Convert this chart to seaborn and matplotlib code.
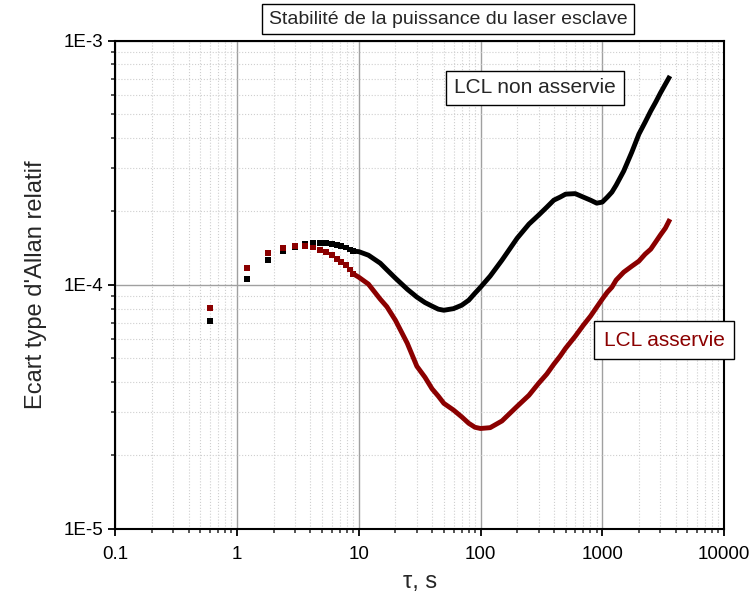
import numpy as np
import pandas as pd
import matplotlib
matplotlib.use("Agg")
import matplotlib.pyplot as plt
import matplotlib.ticker as mticker
import seaborn as sns

# Short tau: individual samples (tau = n * 0.6 s)
tau_pts = [0.6, 1.2, 1.8, 2.4, 3.0, 3.6, 4.2, 4.8, 5.4, 6.0, 6.6, 7.2, 7.8, 8.4, 9.0]
free_pts = [7.13e-5, 1.058e-4, 1.259e-4, 1.37e-4, 1.427e-4, 1.468e-4, 1.482e-4, 1.486e-4,
            1.482e-4, 1.468e-4, 1.454e-4, 1.44e-4, 1.423e-4, 1.396e-4, 1.374e-4]
locked_pts = [8.05e-5, 1.174e-4, 1.348e-4, 1.418e-4, 1.445e-4, 1.445e-4, 1.423e-4, 1.387e-4,
              1.358e-4, 1.32e-4, 1.278e-4, 1.243e-4, 1.201e-4, 1.156e-4, 1.109e-4]

# Long tau: samples are so dense they merge into a thick curve
tau_line = [9.0, 10, 12, 15, 17, 20, 25, 30, 35, 40, 45, 50, 60, 70, 80, 90, 100, 120, 150,
            200, 250, 300, 350, 400, 450, 500, 600, 700, 800, 900, 1000, 1100, 1200, 1300,
            1500, 1750, 2000, 2250, 2500, 2750, 3000, 3300, 3600]
free_line = [1.374e-4, 1.368e-4, 1.323e-4, 1.227e-4, 1.153e-4, 1.065e-4, 9.60e-5, 8.91e-5,
             8.46e-5, 8.18e-5, 7.95e-5, 7.87e-5, 7.99e-5, 8.25e-5, 8.65e-5, 9.24e-5, 9.78e-5,
             1.086e-4, 1.262e-4, 1.553e-4, 1.774e-4, 1.93e-4, 2.08e-4, 2.223e-4, 2.287e-4,
             2.353e-4, 2.364e-4, 2.287e-4, 2.223e-4, 2.161e-4, 2.182e-4, 2.287e-4, 2.398e-4,
             2.56e-4, 2.924e-4, 3.50e-4, 4.146e-4, 4.64e-4, 5.15e-4, 5.61e-4, 6.10e-4,
             6.64e-4, 7.17e-4]
locked_line = [1.109e-4, 1.075e-4, 1.007e-4, 8.74e-5, 8.14e-5, 7.16e-5, 5.77e-5, 4.64e-5,
               4.18e-5, 3.75e-5, 3.50e-5, 3.27e-5, 3.07e-5, 2.88e-5, 2.71e-5, 2.61e-5, 2.58e-5,
               2.60e-5, 2.77e-5, 3.18e-5, 3.53e-5, 3.95e-5, 4.31e-5, 4.73e-5, 5.10e-5,
               5.50e-5, 6.16e-5, 6.84e-5, 7.44e-5, 8.10e-5, 8.74e-5, 9.33e-5, 9.78e-5,
               1.046e-4, 1.127e-4, 1.193e-4, 1.251e-4, 1.336e-4, 1.40e-4, 1.50e-4, 1.599e-4,
               1.708e-4, 1.859e-4]

x_ticks = [0.1, 1, 10, 100, 1000, 10000]
x_labels = ["0.1", "1", "10", "100", "1000", "10000"]
y_ticks = [1e-5, 1e-4, 1e-3]
y_labels = ["1E-5", "1E-4", "1E-3"]

colors = {"free": "black", "locked": "#8b0000"}

df_pts = pd.DataFrame({
    "tau": tau_pts * 2,
    "adev": free_pts + locked_pts,
    "series": ["free"] * len(tau_pts) + ["locked"] * len(tau_pts),
})
df_line = pd.DataFrame({
    "tau": tau_line * 2,
    "adev": free_line + locked_line,
    "series": ["free"] * len(tau_line) + ["locked"] * len(tau_line),
})

sns.set_style("white")
plt.rcParams['font.family'] = ['Liberation Sans', 'DejaVu Sans']

fig = plt.figure(figsize=(7.53, 6.06), dpi=100)
ax = fig.add_axes([0.1531, 0.1271, 0.8084, 0.8057])

sns.lineplot(data=df_line, x="tau", y="adev", hue="series", palette=colors,
             linewidth=3.5, legend=False, ax=ax, zorder=3,
             solid_joinstyle="round", solid_capstyle="butt")
sns.scatterplot(data=df_pts, x="tau", y="adev", hue="series", palette=colors,
                marker="s", s=18, linewidth=0, legend=False, ax=ax, zorder=4)

ax.set_xscale("log")
ax.set_yscale("log")
ax.set_xlim(0.1, 10000)
ax.set_ylim(1e-5, 1e-3)
ax.set_xticks(x_ticks)
ax.set_xticklabels(x_labels)
ax.set_yticks(y_ticks)
ax.set_yticklabels(y_labels)
ax.xaxis.set_minor_locator(mticker.LogLocator(base=10, subs=np.arange(2, 10), numticks=20))
ax.yaxis.set_minor_locator(mticker.LogLocator(base=10, subs=np.arange(2, 10), numticks=20))
ax.xaxis.set_minor_formatter(mticker.NullFormatter())
ax.yaxis.set_minor_formatter(mticker.NullFormatter())

ax.set_axisbelow(True)
ax.grid(which="major", color="#a0a0a0", linewidth=1.0, linestyle="-")
ax.grid(which="minor", color="#cfcfcf", linewidth=0.8, linestyle=":")

ax.tick_params(which="major", direction="out", length=5, width=1.3, labelsize=13.5,
               bottom=True, left=True, top=False, right=False, colors="black")
ax.tick_params(axis="x", which="major", pad=7)
ax.tick_params(which="minor", direction="out", length=3, width=1.1,
               bottom=True, left=True, top=False, right=False)
for sp in ax.spines.values():
    sp.set_linewidth(1.5)
    sp.set_color("black")

ax.set_xlabel("τ, s", fontsize=17, labelpad=6)
ax.set_ylabel("Ecart type d'Allan relatif", fontsize=17, labelpad=12)

box = dict(boxstyle="square,pad=0.35", facecolor="white", edgecolor="black", linewidth=1)
fig.text(0.595, 0.9686, "Stabilité de la puissance du laser esclave", fontsize=14,
         ha="center", va="center", bbox=box)
fig.text(0.7105, 0.8548, "LCL non asservie", fontsize=15, ha="center", va="center",
         bbox=dict(boxstyle="square,pad=0.38", facecolor="white", edgecolor="black", linewidth=1))
fig.text(0.8818, 0.4389, "LCL asservie", fontsize=15, color="#8b0000",
         ha="center", va="center",
         bbox=dict(boxstyle="square,pad=0.45", facecolor="white", edgecolor="black", linewidth=1))

fig.savefig("out.png", dpi=100)
